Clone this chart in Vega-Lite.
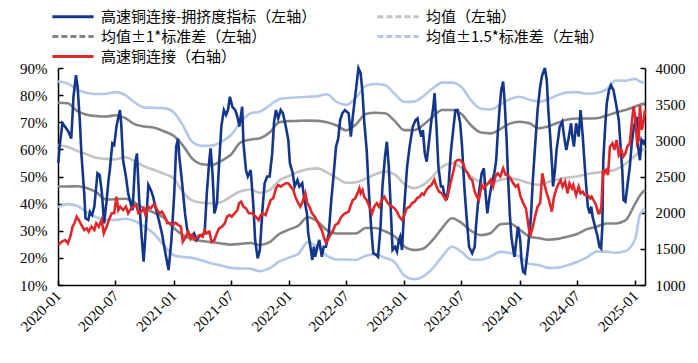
{
"$schema":"https://vega.github.io/schema/vega-lite/v6.json",
"width":587,"height":217,
"autosize":{"type":"none"},
"padding":{"left":58,"top":68,"right":53,"bottom":78},
"config":{"view":{"stroke":null},
"axis":{"grid":false,"domainColor":"#000","domainWidth":1.5,"tickColor":"#000","tickWidth":1.5,"tickSize":-5,"labelFont":"Liberation Serif","labelFontSize":15,"labelColor":"#000","labelOverlap":false},
"legend":{"labelFont":"Noto Sans CJK SC","labelFontSize":15,"labelColor":"#000"}},
"datasets":{
"band":[
{"d":"2020-01-01","m":61.6,"u1":77.2,"l1":46.3,"u15":85.0,"l15":38.6},
{"d":"2020-02-01","m":60.9,"u1":77.0,"l1":46.3,"u15":84.3,"l15":39.8},
{"d":"2020-03-01","m":59.5,"u1":74.2,"l1":46.4,"u15":82.1,"l15":39.2},
{"d":"2020-04-01","m":58.2,"u1":72.8,"l1":45.8,"u15":80.8,"l15":36.8},
{"d":"2020-05-01","m":56.9,"u1":72.3,"l1":44.2,"u15":80.4,"l15":35.0},
{"d":"2020-06-01","m":56.5,"u1":72.1,"l1":41.5,"u15":80.5,"l15":34.0},
{"d":"2020-07-01","m":56.3,"u1":72.6,"l1":41.6,"u15":81.1,"l15":34.0},
{"d":"2020-08-01","m":57.1,"u1":71.5,"l1":41.8,"u15":80.0,"l15":34.4},
{"d":"2020-09-01","m":55.6,"u1":69.2,"l1":40.3,"u15":77.2,"l15":33.5},
{"d":"2020-10-01","m":53.7,"u1":68.4,"l1":38.2,"u15":75.4,"l15":31.5},
{"d":"2020-11-01","m":52.4,"u1":68.0,"l1":36.6,"u15":75.3,"l15":28.8},
{"d":"2020-12-01","m":51.0,"u1":66.7,"l1":34.8,"u15":75.2,"l15":24.7},
{"d":"2021-01-01","m":49.3,"u1":65.0,"l1":31.0,"u15":73.7,"l15":21.0},
{"d":"2021-02-01","m":44.0,"u1":61.2,"l1":28.3,"u15":68.5,"l15":20.3},
{"d":"2021-03-01","m":41.2,"u1":56.6,"l1":26.9,"u15":62.7,"l15":20.0},
{"d":"2021-04-01","m":40.3,"u1":54.5,"l1":26.2,"u15":61.3,"l15":19.0},
{"d":"2021-05-01","m":40.1,"u1":54.2,"l1":25.8,"u15":61.4,"l15":17.9},
{"d":"2021-06-01","m":40.6,"u1":55.8,"l1":25.3,"u15":62.8,"l15":17.2},
{"d":"2021-07-01","m":42.6,"u1":58.0,"l1":24.9,"u15":65.2,"l15":16.3},
{"d":"2021-08-01","m":44.6,"u1":62.6,"l1":25.2,"u15":70.0,"l15":16.1},
{"d":"2021-09-01","m":45.2,"u1":63.6,"l1":25.5,"u15":73.3,"l15":16.0},
{"d":"2021-10-01","m":44.0,"u1":64.1,"l1":24.8,"u15":73.9,"l15":15.1},
{"d":"2021-11-01","m":45.0,"u1":66.2,"l1":25.8,"u15":76.2,"l15":16.2},
{"d":"2021-12-01","m":48.5,"u1":70.0,"l1":28.8,"u15":78.5,"l15":18.6},
{"d":"2022-01-01","m":50.2,"u1":70.4,"l1":30.4,"u15":79.0,"l15":20.1},
{"d":"2022-02-01","m":51.8,"u1":70.5,"l1":32.0,"u15":79.2,"l15":21.6},
{"d":"2022-03-01","m":52.7,"u1":70.6,"l1":35.0,"u15":79.4,"l15":25.8},
{"d":"2022-04-01","m":53.0,"u1":70.5,"l1":33.5,"u15":79.6,"l15":24.0},
{"d":"2022-05-01","m":51.5,"u1":70.0,"l1":30.2,"u15":80.3,"l15":20.8},
{"d":"2022-06-01","m":49.5,"u1":68.8,"l1":29.0,"u15":77.5,"l15":19.4},
{"d":"2022-07-01","m":47.7,"u1":67.0,"l1":29.0,"u15":76.4,"l15":19.4},
{"d":"2022-08-01","m":47.9,"u1":69.2,"l1":29.0,"u15":79.0,"l15":19.2},
{"d":"2022-09-01","m":49.2,"u1":73.0,"l1":31.0,"u15":83.4,"l15":20.8},
{"d":"2022-10-01","m":50.8,"u1":73.5,"l1":31.0,"u15":84.1,"l15":21.4},
{"d":"2022-11-01","m":51.8,"u1":73.3,"l1":29.8,"u15":83.7,"l15":20.0},
{"d":"2022-12-01","m":50.8,"u1":70.6,"l1":28.0,"u15":80.5,"l15":18.5},
{"d":"2023-01-01","m":47.3,"u1":67.1,"l1":24.2,"u15":77.5,"l15":13.5},
{"d":"2023-02-01","m":45.7,"u1":67.1,"l1":22.9,"u15":77.6,"l15":12.1},
{"d":"2023-03-01","m":46.8,"u1":68.9,"l1":23.4,"u15":79.5,"l15":13.1},
{"d":"2023-04-01","m":50.0,"u1":72.0,"l1":26.6,"u15":82.5,"l15":16.1},
{"d":"2023-05-01","m":53.6,"u1":74.5,"l1":31.0,"u15":84.6,"l15":20.5},
{"d":"2023-06-01","m":54.9,"u1":74.5,"l1":34.6,"u15":84.6,"l15":24.1},
{"d":"2023-07-01","m":53.2,"u1":73.0,"l1":32.9,"u15":83.0,"l15":22.2},
{"d":"2023-08-01","m":50.0,"u1":68.8,"l1":29.9,"u15":78.0,"l15":19.4},
{"d":"2023-09-01","m":48.0,"u1":66.2,"l1":28.4,"u15":75.0,"l15":19.3},
{"d":"2023-10-01","m":47.5,"u1":65.9,"l1":29.1,"u15":74.7,"l15":20.5},
{"d":"2023-11-01","m":48.7,"u1":67.5,"l1":32.4,"u15":76.5,"l15":22.2},
{"d":"2023-12-01","m":49.3,"u1":69.5,"l1":32.7,"u15":78.5,"l15":21.8},
{"d":"2024-01-01","m":48.7,"u1":70.2,"l1":30.4,"u15":79.4,"l15":20.5},
{"d":"2024-02-01","m":47.5,"u1":69.6,"l1":27.9,"u15":78.3,"l15":17.8},
{"d":"2024-03-01","m":46.9,"u1":67.8,"l1":27.3,"u15":77.6,"l15":17.4},
{"d":"2024-04-01","m":48.0,"u1":68.5,"l1":26.7,"u15":78.5,"l15":16.3},
{"d":"2024-05-01","m":48.9,"u1":69.8,"l1":27.0,"u15":80.0,"l15":16.4},
{"d":"2024-06-01","m":49.6,"u1":71.0,"l1":27.8,"u15":81.0,"l15":17.3},
{"d":"2024-07-01","m":50.0,"u1":71.4,"l1":28.8,"u15":81.1,"l15":18.5},
{"d":"2024-08-01","m":50.8,"u1":71.4,"l1":30.6,"u15":80.5,"l15":20.2},
{"d":"2024-09-01","m":51.4,"u1":71.5,"l1":31.5,"u15":80.8,"l15":22.3},
{"d":"2024-10-01","m":51.9,"u1":72.4,"l1":32.7,"u15":82.0,"l15":22.3},
{"d":"2024-11-01","m":52.6,"u1":73.6,"l1":32.7,"u15":85.4,"l15":21.9},
{"d":"2024-12-01","m":54.6,"u1":74.5,"l1":33.8,"u15":85.3,"l15":22.5},
{"d":"2025-01-01","m":57.7,"u1":75.8,"l1":40.0,"u15":86.0,"l15":27.0},
{"d":"2025-01-16","m":59.0,"u1":76.5,"l1":43.0,"u15":85.0,"l15":36.0},
{"d":"2025-02-01","m":60.4,"u1":77.0,"l1":45.0,"u15":84.6,"l15":38.2}
],
"idx":[
{"d":"2020-01-02","v":55},{"d":"2020-01-07","v":62},{"d":"2020-01-15","v":69.6},{"d":"2020-01-23","v":68.4},{"d":"2020-02-03","v":66.5},{"d":"2020-02-12","v":64},{"d":"2020-02-19","v":79.4},{"d":"2020-02-27","v":87.4},{"d":"2020-03-03","v":83},{"d":"2020-03-10","v":70.8},{"d":"2020-03-15","v":58.5},{"d":"2020-03-24","v":43.8},{"d":"2020-03-28","v":34.6},{"d":"2020-04-06","v":34},{"d":"2020-04-11","v":37},{"d":"2020-04-18","v":35.8},{"d":"2020-04-25","v":38.9},{"d":"2020-05-05","v":51.2},{"d":"2020-05-12","v":50.6},{"d":"2020-05-19","v":43.8},{"d":"2020-05-26","v":32.7},{"d":"2020-06-03","v":41.3},{"d":"2020-06-09","v":48.7},{"d":"2020-06-13","v":52.4},{"d":"2020-06-21","v":62.2},{"d":"2020-06-27","v":61.6},{"d":"2020-07-04","v":68.4},{"d":"2020-07-15","v":74.5},{"d":"2020-07-19","v":69.6},{"d":"2020-07-25","v":56},{"d":"2020-08-03","v":50},{"d":"2020-08-10","v":43.8},{"d":"2020-08-18","v":40},{"d":"2020-08-24","v":37.6},{"d":"2020-09-01","v":54.9},{"d":"2020-09-07","v":58.5},{"d":"2020-09-14","v":41.3},{"d":"2020-09-21","v":29},{"d":"2020-09-28","v":18.6},{"d":"2020-10-04","v":29},{"d":"2020-10-13","v":46.9},{"d":"2020-10-21","v":45},{"d":"2020-10-28","v":42.6},
{"d":"2020-11-04","v":38.9},{"d":"2020-11-15","v":34},{"d":"2020-11-25","v":29},{"d":"2020-12-06","v":21.7},{"d":"2020-12-16","v":15.5},{"d":"2020-12-25","v":26.6},{"d":"2021-01-03","v":43.8},{"d":"2021-01-09","v":61},{"d":"2021-01-15","v":64},{"d":"2021-01-19","v":57.3},{"d":"2021-01-28","v":47.5},{"d":"2021-02-06","v":36.4},{"d":"2021-02-13","v":30.3},{"d":"2021-02-21","v":28.4},{"d":"2021-02-28","v":27.8},{"d":"2021-03-07","v":29},{"d":"2021-03-15","v":26.6},{"d":"2021-03-22","v":27.8},{"d":"2021-03-30","v":28.4},{"d":"2021-04-09","v":29},{"d":"2021-04-16","v":43.8},{"d":"2021-04-24","v":56},{"d":"2021-04-28","v":60.4},{"d":"2021-05-04","v":51.2},{"d":"2021-05-10","v":36.4},{"d":"2021-05-18","v":40},{"d":"2021-05-25","v":54.9},{"d":"2021-06-01","v":68.4},{"d":"2021-06-09","v":74.5},{"d":"2021-06-16","v":72.7},{"d":"2021-06-22","v":74.5},{"d":"2021-06-28","v":79.4},{"d":"2021-07-06","v":75.7},{"d":"2021-07-15","v":74.5},{"d":"2021-07-22","v":72},{"d":"2021-07-28","v":68.4},{"d":"2021-08-06","v":75.7},{"d":"2021-08-10","v":62.2},{"d":"2021-08-18","v":52.4},{"d":"2021-08-24","v":50},
{"d":"2021-09-02","v":52.4},{"d":"2021-09-10","v":40},{"d":"2021-09-16","v":26.6},{"d":"2021-09-24","v":19.8},{"d":"2021-10-01","v":22.9},{"d":"2021-10-09","v":37.6},{"d":"2021-10-16","v":47.5},{"d":"2021-10-24","v":50},{"d":"2021-11-01","v":50},{"d":"2021-11-09","v":58.5},{"d":"2021-11-15","v":70.2},{"d":"2021-11-21","v":74.5},{"d":"2021-11-28","v":71.4},{"d":"2021-12-06","v":74.5},{"d":"2021-12-13","v":73.3},{"d":"2021-12-22","v":68.4},{"d":"2021-12-30","v":63.5},{"d":"2022-01-04","v":54.9},{"d":"2022-01-13","v":51.2},{"d":"2022-01-19","v":46.3},{"d":"2022-01-28","v":48.7},{"d":"2022-02-03","v":46.3},{"d":"2022-02-12","v":47.5},{"d":"2022-02-19","v":41.3},{"d":"2022-02-27","v":36.4},{"d":"2022-03-03","v":29},{"d":"2022-03-10","v":24.1},{"d":"2022-03-16","v":19.2},{"d":"2022-03-21","v":24.1},{"d":"2022-03-25","v":20.4},{"d":"2022-04-01","v":24.1},{"d":"2022-04-07","v":26.6},{"d":"2022-04-15","v":20.4},{"d":"2022-04-21","v":24.1},{"d":"2022-04-28","v":24.1},{"d":"2022-05-07","v":29},{"d":"2022-05-15","v":41.3},{"d":"2022-05-22","v":50},{"d":"2022-05-30","v":61},{"d":"2022-06-06","v":64},{"d":"2022-06-12","v":70.8},{"d":"2022-06-19","v":73.3},{"d":"2022-06-27","v":74.5},
{"d":"2022-07-09","v":73.3},{"d":"2022-07-16","v":64.7},{"d":"2022-07-22","v":72},{"d":"2022-08-01","v":81.9},{"d":"2022-08-09","v":89.9},{"d":"2022-08-16","v":88},{"d":"2022-08-22","v":80.7},{"d":"2022-08-27","v":70.8},{"d":"2022-09-04","v":59.8},{"d":"2022-09-10","v":46.3},{"d":"2022-09-18","v":31.5},{"d":"2022-09-25","v":21.7},{"d":"2022-10-04","v":21.1},{"d":"2022-10-10","v":20.4},{"d":"2022-10-18","v":31.5},{"d":"2022-10-24","v":46.3},{"d":"2022-11-01","v":57.3},{"d":"2022-11-07","v":62.8},{"d":"2022-11-13","v":53.6},{"d":"2022-11-18","v":41.3},{"d":"2022-11-25","v":22.9},{"d":"2022-12-03","v":24.1},{"d":"2022-12-09","v":22.3},{"d":"2022-12-15","v":26.6},{"d":"2022-12-19","v":27.8},{"d":"2022-12-25","v":22.9},{"d":"2023-01-01","v":38.9},{"d":"2023-01-10","v":53.6},{"d":"2023-01-18","v":61},{"d":"2023-01-28","v":68.4},{"d":"2023-02-06","v":70.8},{"d":"2023-02-12","v":71.4},{"d":"2023-02-16","v":68.4},{"d":"2023-02-24","v":64.7},{"d":"2023-03-01","v":67.1},{"d":"2023-03-07","v":58.5},{"d":"2023-03-13","v":55.5},{"d":"2023-03-21","v":63.5},{"d":"2023-03-28","v":70.8},{"d":"2023-04-03","v":75.7},{"d":"2023-04-07","v":80.7},{"d":"2023-04-13","v":68.4},{"d":"2023-04-19","v":53.6},{"d":"2023-04-27","v":46.3},
{"d":"2023-05-03","v":46.3},{"d":"2023-05-07","v":43.8},{"d":"2023-05-15","v":41.3},{"d":"2023-05-21","v":46.3},{"d":"2023-05-28","v":58.5},{"d":"2023-06-06","v":68.4},{"d":"2023-06-12","v":74.5},{"d":"2023-06-19","v":74.5},{"d":"2023-06-27","v":69.6},{"d":"2023-07-03","v":61},{"d":"2023-07-10","v":46.3},{"d":"2023-07-18","v":34},{"d":"2023-07-25","v":24.1},{"d":"2023-08-04","v":21.7},{"d":"2023-08-12","v":24.1},{"d":"2023-08-16","v":31.5},{"d":"2023-08-25","v":43.8},{"d":"2023-09-03","v":51.2},{"d":"2023-09-10","v":53},{"d":"2023-09-16","v":42.6},{"d":"2023-09-21","v":36.4},{"d":"2023-09-28","v":42.6},{"d":"2023-10-07","v":48.7},{"d":"2023-10-13","v":51.2},{"d":"2023-10-19","v":56},{"d":"2023-10-24","v":65.9},{"d":"2023-10-30","v":75.7},{"d":"2023-11-04","v":81.9},{"d":"2023-11-10","v":85},{"d":"2023-11-15","v":77},{"d":"2023-11-21","v":63.5},{"d":"2023-11-25","v":51.2},{"d":"2023-12-01","v":36.4},{"d":"2023-12-06","v":27.8},{"d":"2023-12-12","v":22.9},{"d":"2023-12-16","v":20.4},{"d":"2023-12-22","v":26.6},{"d":"2023-12-27","v":31.5},{"d":"2024-01-03","v":26.6},{"d":"2024-01-07","v":19.2},{"d":"2024-01-12","v":14.9},{"d":"2024-01-18","v":14.3},{"d":"2024-01-22","v":18},{"d":"2024-01-28","v":24.1},{"d":"2024-02-06","v":35.2},{"d":"2024-02-12","v":48.7},{"d":"2024-02-19","v":61},{"d":"2024-02-27","v":74.5},{"d":"2024-03-06","v":83},{"d":"2024-03-12","v":87},
{"d":"2024-03-21","v":90},{"d":"2024-03-27","v":85.6},{"d":"2024-04-01","v":74.5},{"d":"2024-04-07","v":64.7},{"d":"2024-04-13","v":53.6},{"d":"2024-04-16","v":46.3},{"d":"2024-04-22","v":52.4},{"d":"2024-04-27","v":59.8},{"d":"2024-05-03","v":64.7},{"d":"2024-05-07","v":68.4},{"d":"2024-05-15","v":70.2},{"d":"2024-05-21","v":64.7},{"d":"2024-05-28","v":59.8},{"d":"2024-06-04","v":64},{"d":"2024-06-12","v":69.6},{"d":"2024-06-16","v":64.7},{"d":"2024-06-21","v":61},{"d":"2024-06-28","v":69.6},{"d":"2024-07-06","v":64.7},{"d":"2024-07-12","v":74.5},{"d":"2024-07-19","v":64.7},{"d":"2024-07-24","v":56},{"d":"2024-07-30","v":46.3},{"d":"2024-08-04","v":38.9},{"d":"2024-08-10","v":36.4},{"d":"2024-08-15","v":38.9},{"d":"2024-08-19","v":35.2},{"d":"2024-08-27","v":31.5},{"d":"2024-09-04","v":27.8},{"d":"2024-09-10","v":24.1},{"d":"2024-09-15","v":23.5},{"d":"2024-09-19","v":31.5},{"d":"2024-09-22","v":56},{"d":"2024-09-28","v":68.4},{"d":"2024-10-03","v":77},{"d":"2024-10-10","v":81.9},{"d":"2024-10-16","v":83.7},{"d":"2024-10-24","v":81.9},{"d":"2024-11-01","v":77},{"d":"2024-11-10","v":70.8},{"d":"2024-11-15","v":62.2},{"d":"2024-11-21","v":52.4},{"d":"2024-11-25","v":41.3},{"d":"2024-12-01","v":40.7},{"d":"2024-12-07","v":46.3},{"d":"2024-12-15","v":53.6},{"d":"2024-12-21","v":62.2},{"d":"2024-12-28","v":68.4},{"d":"2025-01-06","v":72},{"d":"2025-01-10","v":61},{"d":"2025-01-16","v":56},{"d":"2025-01-21","v":63.5},{"d":"2025-01-28","v":62.2},{"d":"2025-02-01","v":63.5}
],
"price":[
{"d":"2020-01-02","p":1553},{"d":"2020-01-13","p":1599},{"d":"2020-01-24","p":1622},{"d":"2020-02-01","p":1576},{"d":"2020-02-09","p":1668},{"d":"2020-02-16","p":1807},{"d":"2020-02-22","p":1853},{"d":"2020-02-29","p":1945},{"d":"2020-03-07","p":1899},{"d":"2020-03-15","p":1830},{"d":"2020-03-24","p":1760},{"d":"2020-04-01","p":1784},{"d":"2020-04-07","p":1738},{"d":"2020-04-16","p":1807},{"d":"2020-04-25","p":1760},{"d":"2020-05-01","p":1853},{"d":"2020-05-09","p":1807},{"d":"2020-05-18","p":1899},{"d":"2020-05-25","p":1714},{"d":"2020-06-03","p":1807},{"d":"2020-06-10","p":1899},{"d":"2020-06-19","p":1991},{"d":"2020-06-27","p":1991},{"d":"2020-07-04","p":2221},{"d":"2020-07-10","p":2037},{"d":"2020-07-16","p":2083},{"d":"2020-07-25","p":2037},{"d":"2020-08-03","p":2083},{"d":"2020-08-10","p":1991},{"d":"2020-08-19","p":2060},{"d":"2020-08-27","p":2083},{"d":"2020-09-04","p":2106},{"d":"2020-09-12","p":1991},{"d":"2020-09-21","p":2014},{"d":"2020-09-28","p":2060},{"d":"2020-10-04","p":1968},{"d":"2020-10-13","p":2083},{"d":"2020-10-21","p":2060},{"d":"2020-10-28","p":2106},
{"d":"2020-11-03","p":2106},{"d":"2020-11-10","p":2037},{"d":"2020-11-18","p":1991},{"d":"2020-11-25","p":2014},{"d":"2020-12-04","p":1945},{"d":"2020-12-12","p":1853},{"d":"2020-12-22","p":1853},{"d":"2020-12-30","p":1830},{"d":"2021-01-07","p":1862},{"d":"2021-01-16","p":1830},{"d":"2021-01-24","p":1807},{"d":"2021-01-30","p":1599},{"d":"2021-02-09","p":1668},{"d":"2021-02-16","p":1738},{"d":"2021-02-24","p":1645},{"d":"2021-03-01","p":1691},{"d":"2021-03-10","p":1622},{"d":"2021-03-18","p":1668},{"d":"2021-03-25","p":1691},{"d":"2021-04-03","p":1668},{"d":"2021-04-09","p":1760},{"d":"2021-04-16","p":1714},{"d":"2021-04-24","p":1738},{"d":"2021-05-01","p":1599},{"d":"2021-05-10","p":1622},{"d":"2021-05-18","p":1714},{"d":"2021-05-25","p":1784},{"d":"2021-06-03","p":1807},{"d":"2021-06-12","p":1853},{"d":"2021-06-19","p":1945},{"d":"2021-06-27","p":1968},{"d":"2021-07-04","p":1945},{"d":"2021-07-13","p":1991},{"d":"2021-07-22","p":2037},{"d":"2021-07-27","p":2129},{"d":"2021-08-03","p":2152},{"d":"2021-08-10","p":2083},{"d":"2021-08-18","p":2060},{"d":"2021-08-27","p":1991},
{"d":"2021-09-07","p":1991},{"d":"2021-09-18","p":1945},{"d":"2021-09-27","p":1899},{"d":"2021-10-04","p":1968},{"d":"2021-10-10","p":1991},{"d":"2021-10-19","p":1968},{"d":"2021-10-28","p":2083},{"d":"2021-11-04","p":2175},{"d":"2021-11-12","p":2198},{"d":"2021-11-21","p":2336},{"d":"2021-11-28","p":2383},{"d":"2021-12-06","p":2360},{"d":"2021-12-13","p":2383},{"d":"2021-12-22","p":2406},{"d":"2021-12-30","p":2406},{"d":"2022-01-07","p":2360},{"d":"2022-01-15","p":2313},{"d":"2022-01-21","p":2221},{"d":"2022-01-28","p":2152},{"d":"2022-02-06","p":2083},{"d":"2022-02-13","p":2152},{"d":"2022-02-22","p":2267},{"d":"2022-02-28","p":2129},{"d":"2022-03-07","p":2083},{"d":"2022-03-15","p":1991},{"d":"2022-03-24","p":1945},{"d":"2022-04-01","p":1876},{"d":"2022-04-09","p":1807},{"d":"2022-04-15","p":1760},{"d":"2022-04-21","p":1668},{"d":"2022-04-28","p":1585},{"d":"2022-05-04","p":1622},{"d":"2022-05-12","p":1691},{"d":"2022-05-19","p":1738},{"d":"2022-05-28","p":1830},{"d":"2022-06-06","p":1853},{"d":"2022-06-13","p":1922},{"d":"2022-06-21","p":1968},{"d":"2022-06-28","p":1991},
{"d":"2022-07-09","p":2014},{"d":"2022-07-16","p":2106},{"d":"2022-07-22","p":2175},{"d":"2022-07-30","p":2198},{"d":"2022-08-06","p":2267},{"d":"2022-08-12","p":2336},{"d":"2022-08-16","p":2267},{"d":"2022-08-22","p":2313},{"d":"2022-08-27","p":2221},{"d":"2022-09-04","p":2175},{"d":"2022-09-13","p":2083},{"d":"2022-09-21","p":1991},{"d":"2022-09-28","p":2083},{"d":"2022-10-06","p":2129},{"d":"2022-10-13","p":2083},{"d":"2022-10-22","p":2175},{"d":"2022-10-30","p":2221},{"d":"2022-11-07","p":2152},{"d":"2022-11-15","p":2106},{"d":"2022-11-24","p":2083},{"d":"2022-12-01","p":2060},{"d":"2022-12-09","p":2014},{"d":"2022-12-16","p":1945},{"d":"2022-12-25","p":1899},{"d":"2023-01-01","p":1968},{"d":"2023-01-09","p":2060},{"d":"2023-01-18","p":2083},{"d":"2023-01-25","p":2129},{"d":"2023-02-03","p":2152},{"d":"2023-02-10","p":2198},{"d":"2023-02-19","p":2221},{"d":"2023-02-26","p":2267},{"d":"2023-03-04","p":2244},{"d":"2023-03-12","p":2313},{"d":"2023-03-21","p":2360},{"d":"2023-03-28","p":2383},{"d":"2023-04-06","p":2452},{"d":"2023-04-13","p":2360},{"d":"2023-04-21","p":2290},{"d":"2023-04-30","p":2267},
{"d":"2023-05-05","p":2230},{"d":"2023-05-12","p":2180},{"d":"2023-05-18","p":2221},{"d":"2023-05-26","p":2383},{"d":"2023-06-04","p":2544},{"d":"2023-06-12","p":2705},{"d":"2023-06-19","p":2728},{"d":"2023-06-27","p":2728},{"d":"2023-07-06","p":2682},{"d":"2023-07-13","p":2590},{"d":"2023-07-21","p":2544},{"d":"2023-07-28","p":2475},{"d":"2023-08-04","p":2452},{"d":"2023-08-12","p":2290},{"d":"2023-08-19","p":2221},{"d":"2023-08-25","p":2175},{"d":"2023-09-03","p":2383},{"d":"2023-09-10","p":2336},{"d":"2023-09-16","p":2369},{"d":"2023-09-24","p":2406},{"d":"2023-10-01","p":2452},{"d":"2023-10-09","p":2360},{"d":"2023-10-16","p":2498},{"d":"2023-10-24","p":2544},{"d":"2023-11-01","p":2498},{"d":"2023-11-10","p":2613},{"d":"2023-11-18","p":2521},{"d":"2023-11-25","p":2521},{"d":"2023-12-03","p":2475},{"d":"2023-12-12","p":2406},{"d":"2023-12-19","p":2360},{"d":"2023-12-27","p":2383},{"d":"2024-01-04","p":2221},{"d":"2024-01-13","p":2129},{"d":"2024-01-21","p":2060},{"d":"2024-01-28","p":1853},{"d":"2024-02-03","p":1668},{"d":"2024-02-12","p":1807},{"d":"2024-02-19","p":1945},{"d":"2024-02-27","p":2083},{"d":"2024-03-06","p":2129},
{"d":"2024-03-13","p":2544},{"d":"2024-03-19","p":2406},{"d":"2024-03-27","p":2267},{"d":"2024-04-03","p":2175},{"d":"2024-04-12","p":2014},{"d":"2024-04-19","p":2221},{"d":"2024-04-27","p":2336},{"d":"2024-05-04","p":2406},{"d":"2024-05-10","p":2452},{"d":"2024-05-16","p":2360},{"d":"2024-05-24","p":2429},{"d":"2024-06-01","p":2267},{"d":"2024-06-07","p":2406},{"d":"2024-06-15","p":2336},{"d":"2024-06-19","p":2383},{"d":"2024-06-28","p":2244},{"d":"2024-07-06","p":2360},{"d":"2024-07-12","p":2267},{"d":"2024-07-19","p":2290},{"d":"2024-07-25","p":2244},{"d":"2024-08-03","p":2244},{"d":"2024-08-12","p":2198},{"d":"2024-08-16","p":2221},{"d":"2024-08-22","p":2175},{"d":"2024-08-30","p":2106},{"d":"2024-09-06","p":1991},{"d":"2024-09-10","p":1991},{"d":"2024-09-16","p":2083},{"d":"2024-09-21","p":2590},{"d":"2024-09-25","p":2544},{"d":"2024-10-01","p":2590},{"d":"2024-10-07","p":2521},{"d":"2024-10-13","p":2913},{"d":"2024-10-21","p":2959},{"d":"2024-10-27","p":2867},{"d":"2024-11-03","p":3005},{"d":"2024-11-10","p":2797},{"d":"2024-11-18","p":2867},{"d":"2024-11-24","p":2774},{"d":"2024-12-01","p":2820},{"d":"2024-12-07","p":2913},{"d":"2024-12-15","p":2959},{"d":"2024-12-21","p":3235},{"d":"2024-12-27","p":3465},{"d":"2025-01-01","p":3327},{"d":"2025-01-07","p":2959},{"d":"2025-01-12","p":3005},{"d":"2025-01-16","p":3488},{"d":"2025-01-22","p":3143},{"d":"2025-01-28","p":3281},{"d":"2025-02-01","p":3419}
]},
"encoding":{"x":{"field":"d","type":"temporal",
 "scale":{"type":"utc","domain":[{"year":2020,"month":1,"date":1,"utc":true},{"year":2025,"month":2,"date":1,"utc":true}]},
 "axis":{"title":null,"values":[{"year":2020,"month":1,"date":1,"utc":true},{"year":2020,"month":7,"date":1,"utc":true},{"year":2021,"month":1,"date":1,"utc":true},{"year":2021,"month":7,"date":1,"utc":true},{"year":2022,"month":1,"date":1,"utc":true},{"year":2022,"month":7,"date":1,"utc":true},{"year":2023,"month":1,"date":1,"utc":true},{"year":2023,"month":7,"date":1,"utc":true},{"year":2024,"month":1,"date":1,"utc":true},{"year":2024,"month":7,"date":1,"utc":true},{"year":2025,"month":1,"date":1,"utc":true}],
 "labelExpr":"utcFormat(datum.value, '%Y-%m')","labelAngle":-45,"labelAlign":"right","labelBaseline":"middle","labelPadding":13,"labelOverlap":false,"labelFlush":false}}},
"layer":[
{"layer":[
 {"data":{"name":"band"},"mark":{"type":"line","strokeWidth":2.6,"interpolate":"monotone"},
  "encoding":{"y":{"field":"u15","type":"quantitative","scale":{"domain":[10,90],"nice":false},"axis":{"title":null,"values":[10,20,30,40,50,60,70,80,90],"labelExpr":"datum.value + '%'","labelPadding":16,"labelOverlap":false,"labelFlush":false}},
   "color":{"datum":"均值±1.5*标准差（左轴）","type":"nominal",
    "scale":{"domain":["高速铜连接-拥挤度指标（左轴）","均值（左轴）","均值±1*标准差（左轴）","均值±1.5*标准差（左轴）","高速铜连接（右轴）"],"range":["#14368a","#c3c3c3","#858585","#b4c7e7","#e0282a"]},
    "legend":{"title":null,"orient":"none","legendX":7.5,"legendY":-59,"direction":"horizontal","columns":2,"columnPadding":54,"rowPadding":4,"padding":0,"symbolType":"M-5,0H5","symbolSize":68,"symbolStrokeWidth":3,"labelOffset":20.5,"labelLimit":400,
     "encode":{"symbols":{"update":{"strokeDash":[{"test":"indexof(['均值（左轴）','均值±1*标准差（左轴）','均值±1.5*标准差（左轴）'], datum.value) >= 0","value":[6,3]},{"value":[1,0]}]}}}}}}},
 {"data":{"name":"band"},"mark":{"type":"line","strokeWidth":2.6,"interpolate":"monotone"},
  "encoding":{"y":{"field":"l15","type":"quantitative","axis":{"title":null,"values":[10,20,30,40,50,60,70,80,90],"labelExpr":"datum.value + '%'","labelPadding":16,"labelOverlap":false,"labelFlush":false}},"color":{"datum":"均值±1.5*标准差（左轴）","type":"nominal"}}},
 {"data":{"name":"band"},"mark":{"type":"line","strokeWidth":2.6,"interpolate":"monotone"},
  "encoding":{"y":{"field":"u1","type":"quantitative","axis":{"title":null,"values":[10,20,30,40,50,60,70,80,90],"labelExpr":"datum.value + '%'","labelPadding":16,"labelOverlap":false,"labelFlush":false}},"color":{"datum":"均值±1*标准差（左轴）","type":"nominal"}}},
 {"data":{"name":"band"},"mark":{"type":"line","strokeWidth":2.6,"interpolate":"monotone"},
  "encoding":{"y":{"field":"l1","type":"quantitative","axis":{"title":null,"values":[10,20,30,40,50,60,70,80,90],"labelExpr":"datum.value + '%'","labelPadding":16,"labelOverlap":false,"labelFlush":false}},"color":{"datum":"均值±1*标准差（左轴）","type":"nominal"}}},
 {"data":{"name":"band"},"mark":{"type":"line","strokeWidth":2.6,"interpolate":"monotone"},
  "encoding":{"y":{"field":"m","type":"quantitative","axis":{"title":null,"values":[10,20,30,40,50,60,70,80,90],"labelExpr":"datum.value + '%'","labelPadding":16,"labelOverlap":false,"labelFlush":false}},"color":{"datum":"均值（左轴）","type":"nominal"}}},
 {"data":{"name":"idx"},"mark":{"type":"line","strokeWidth":2.6},
  "encoding":{"y":{"field":"v","type":"quantitative","axis":{"title":null,"values":[10,20,30,40,50,60,70,80,90],"labelExpr":"datum.value + '%'","labelPadding":16,"labelOverlap":false,"labelFlush":false}},"color":{"datum":"高速铜连接-拥挤度指标（左轴）","type":"nominal"}}}
]},
{"data":{"name":"price"},"mark":{"type":"line","strokeWidth":2.6},
 "encoding":{"y":{"field":"p","type":"quantitative","scale":{"domain":[1000,4000],"nice":false},"axis":{"title":null,"orient":"right","values":[1000,1500,2000,2500,3000,3500,4000],"format":"d","labelPadding":15,"labelOverlap":false}},
  "color":{"datum":"高速铜连接（右轴）","type":"nominal"}}}
],
"resolve":{"scale":{"y":"independent"}}
}
